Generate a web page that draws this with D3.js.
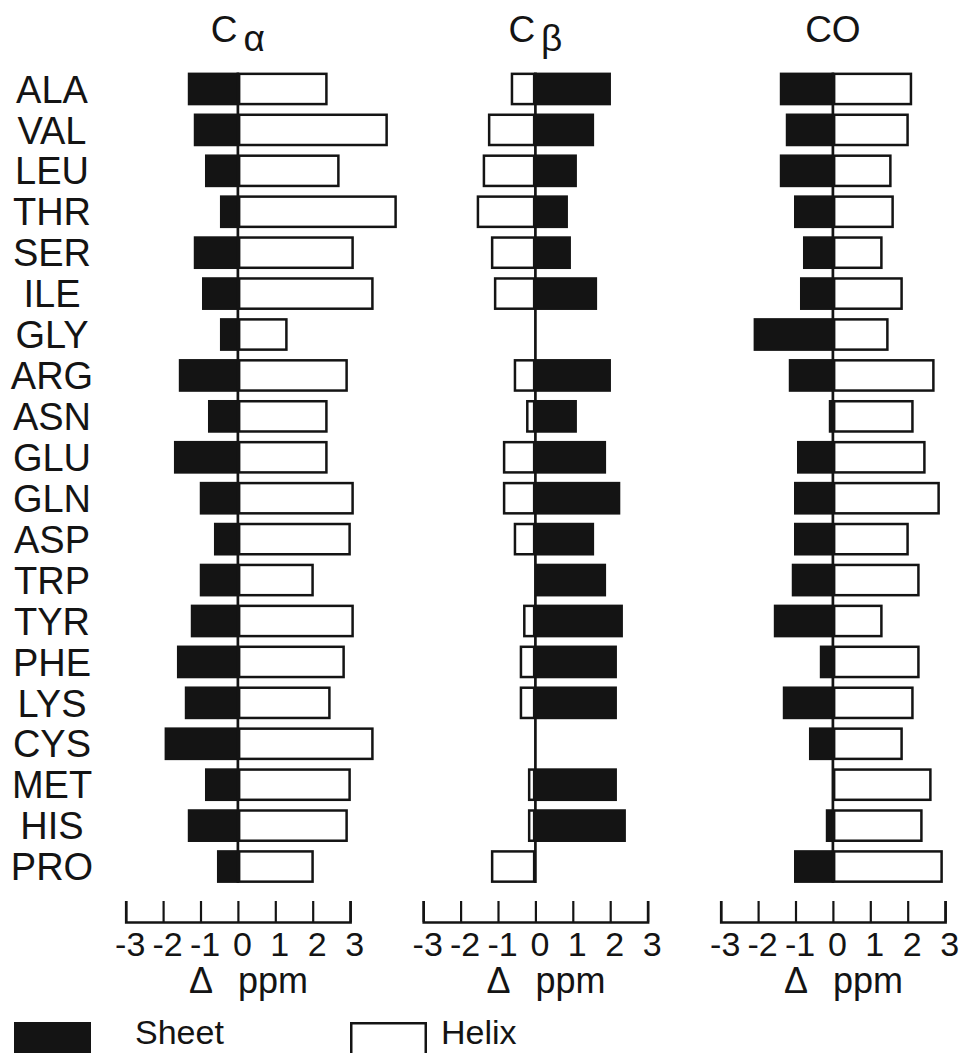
<!DOCTYPE html>
<html>
<head>
<meta charset="utf-8">
<script src="https://cdn.jsdelivr.net/npm/d3@7"></script>
<style>
  body { margin: 0; background: #fff; }
  svg { display: block; font-family: "Liberation Sans", Arial, sans-serif; }
</style>
</head>
<body>
<svg id="chart" width="963" height="1053"></svg>
<script>
// residues, top to bottom
const residues = ['ALA','VAL','LEU','THR','SER','ILE','GLY','ARG','ASN','GLU',
                  'GLN','ASP','TRP','TYR','PHE','LYS','CYS','MET','HIS','PRO'];

// secondary shift (ppm), sheet and helix, per nucleus
const caSheet = [-1.34,-1.18,-0.88,-0.48,-1.18,-0.96,-0.48,-1.58,-0.80,-1.71,
                 -1.02,-0.64,-1.02,-1.26,-1.63,-1.42,-1.96,-0.88,-1.34,-0.56];
const caHelix = [2.40,4.01,2.72,4.25,3.10,3.63,1.33,2.94,2.40,2.40,
                 3.10,3.02,2.03,3.10,2.86,2.48,3.63,3.02,2.94,2.03];

const cbSheet = [2.02,1.57,1.11,0.87,0.95,1.65,null,2.02,1.11,1.89,
                 2.27,1.57,1.89,2.34,2.18,2.18,null,2.18,2.42,null];
const cbHelix = [-0.66,-1.27,-1.41,-1.57,-1.19,-1.11,null,-0.58,-0.25,-0.87,
                 -0.87,-0.58,null,-0.33,-0.42,-0.42,null,-0.20,-0.20,-1.19];

const coSheet = [-1.42,-1.26,-1.42,-1.04,-0.80,-0.88,-2.12,-1.18,-0.11,-0.96,
                 -1.04,-1.04,-1.10,-1.58,-0.35,-1.34,-0.64,0,-0.19,-1.04];
const coHelix = [2.12,2.03,1.57,1.63,1.33,1.87,1.49,2.72,2.16,2.48,
                 2.86,2.03,2.32,1.33,2.32,2.16,1.87,2.64,2.40,2.94];

const tickVals = [-3,-2,-1,0,1,2,3];

const svg = d3.select('#chart');
const ink = '#141414';

const yScale = d3.scaleBand()
    .domain(residues)
    .range([68.5, 887])
    .paddingInner(0.2)
    .paddingOuter(0.1);

// panel zero positions
const panels = [
  { name: 'C', sub: '\u03b1', zero: 237.9, sheet: caSheet, helix: caHelix },
  { name: 'C', sub: '\u03b2', zero: 535.4, sheet: cbSheet, helix: cbHelix },
  { name: 'CO', sub: null,    zero: 832.9, sheet: coSheet, helix: coHelix }
];
const unit = 37.4;

// row labels
svg.append('g').selectAll('text').data(residues)
  .enter().append('text')
    .attr('x', 52)
    .attr('y', d => yScale(d) + yScale.bandwidth() / 2)
    .attr('dy', '0.36em')
    .attr('text-anchor', 'middle')
    .style('font-size', '38px')
    .attr('fill', ink)
    .text(d => d);

let drawPanel = (p) => {
  const xScale = d3.scaleLinear()
      .domain([-3, 3])
      .range([p.zero - 3 * unit, p.zero + 3 * unit]);

  const g = svg.append('g');

  // title
  const title = g.append('text')
      .attr('x', p.zero)
      .attr('y', 42)
      .attr('text-anchor', 'middle')
      .style('font-size', '37px')
      .attr('fill', ink);
  title.append('tspan').text(p.name);
  if (p.sub) {
    title.append('tspan').attr('dx', 6).attr('dy', 9).text(p.sub);
  }

  const sheetRows = residues.map((r, i) => ({ r: r, v: p.sheet[i] })).filter(d => d.v);
  const helixRows = residues.map((r, i) => ({ r: r, v: p.helix[i] })).filter(d => d.v);

  g.append('g').selectAll('rect').data(sheetRows)
    .enter().append('rect')
      .attr('x', d => xScale(Math.min(0, d.v)))
      .attr('y', d => yScale(d.r))
      .attr('width', d => Math.abs(xScale(d.v) - xScale(0)))
      .attr('height', yScale.bandwidth())
      .attr('fill', ink);

  const sw = 2.5;
  g.append('g').selectAll('rect').data(helixRows)
    .enter().append('rect')
      .attr('x', d => xScale(Math.min(0, d.v)) + sw / 2)
      .attr('y', d => yScale(d.r) + sw / 2)
      .attr('width', d => Math.abs(xScale(d.v) - xScale(0)) - sw)
      .attr('height', yScale.bandwidth() - sw)
      .attr('fill', '#fff')
      .attr('stroke', ink)
      .attr('stroke-width', sw);

  // zero line
  g.append('line')
    .attr('x1', xScale(0)).attr('x2', xScale(0))
    .attr('y1', yScale(residues[0]))
    .attr('y2', yScale(residues[residues.length - 1]) + yScale.bandwidth())
    .attr('stroke', ink)
    .attr('stroke-width', 2.7);

  // axis ticks (pointing up)
  const axTicks = g.append('g')
      .attr('transform', 'translate(0,922)')
      .call(d3.axisTop(xScale).tickValues(tickVals).tickSize(21).tickSizeOuter(21).tickFormat(''));
  axTicks.select('.domain').attr('stroke', ink).attr('stroke-width', 2.6);
  axTicks.selectAll('.tick line').attr('stroke', ink).attr('stroke-width', 2.2);

  // axis labels
  const axLabels = g.append('g')
      .attr('transform', 'translate(0,932)')
      .call(d3.axisBottom(xScale).tickValues(tickVals).tickSize(0).tickPadding(0)
        .tickFormat(d => String(d)));
  axLabels.select('.domain').remove();
  axLabels.selectAll('text')
      .attr('dx', 4)
      .attr('fill', ink)
      .style('font-size', '34px')
      .style('font-family', '"Liberation Sans", Arial, sans-serif');

  // Δ ppm
  g.append('text')
    .attr('x', p.zero - 37).attr('y', 993)
    .attr('text-anchor', 'middle')
    .style('font-size', '36px')
    .attr('fill', ink)
    .text('\u0394');
  g.append('text')
    .attr('x', p.zero).attr('y', 993)
    .style('font-size', '36px')
    .attr('fill', ink)
    .text('ppm');
}

panels.forEach(drawPanel);

// legend
const legend = svg.append('g');
legend.append('rect')
  .attr('x', 14).attr('y', 1022).attr('width', 77).attr('height', 40)
  .attr('fill', ink);
legend.append('text')
  .attr('x', 135).attr('y', 1044)
  .style('font-size', '34px').attr('fill', ink)
  .text('Sheet');
legend.append('rect')
  .attr('x', 351.25).attr('y', 1023.25).attr('width', 74.5).attr('height', 40)
  .attr('fill', '#fff').attr('stroke', ink).attr('stroke-width', 2.5);
legend.append('text')
  .attr('x', 441).attr('y', 1044)
  .style('font-size', '34px').attr('fill', ink)
  .text('Helix');
</script>
</body>
</html>
